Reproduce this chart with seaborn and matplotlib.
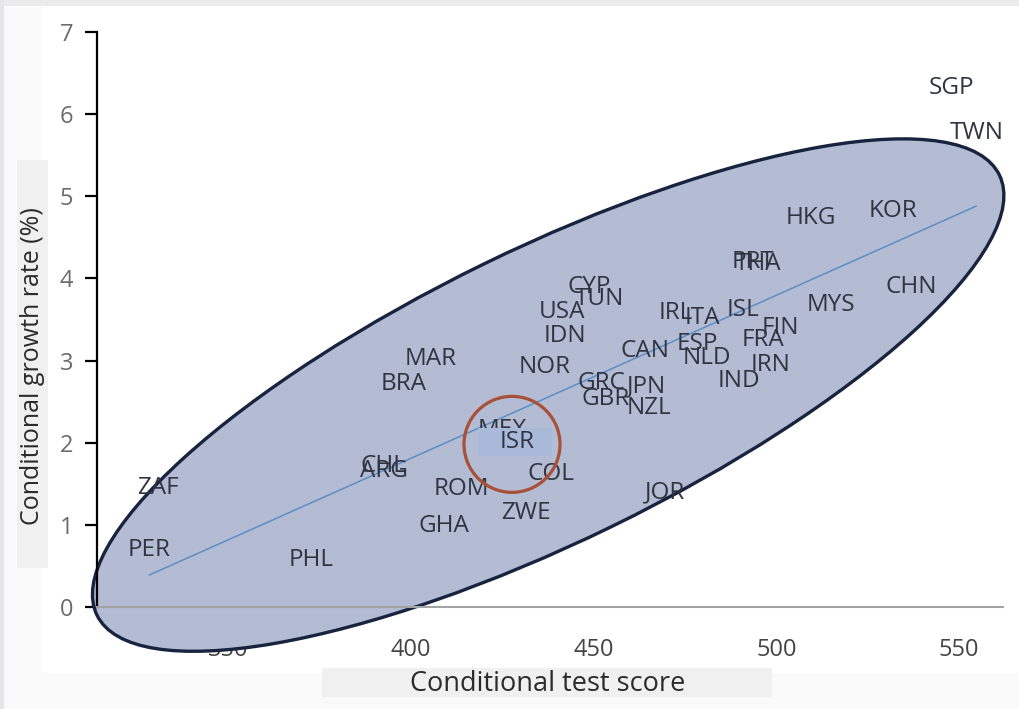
import numpy as np
import pandas as pd
import seaborn as sns
import matplotlib.pyplot as plt
from matplotlib.patches import Ellipse, Circle, Rectangle

countries = ["SGP", "TWN", "HKG", "KOR", "PRT", "THA", "CHN", "MYS", "ISL", "IRL",
             "ITA", "FIN", "FRA", "ESP", "CAN", "NLD", "IRN", "IND", "CYP", "TUN",
             "USA", "IDN", "NOR", "GRC", "JPN", "GBR", "NZL", "MAR", "BRA", "MEX",
             "ISR", "COL", "CHL", "ARG", "ROM", "JOR", "ZWE", "GHA", "ZAF", "PER", "PHL"]
test_score = [548.0, 554.7, 509.3, 531.9, 493.5, 495.0, 536.8, 514.8, 490.9, 472.3,
              479.7, 501.1, 496.2, 478.3, 464.0, 481.0, 498.4, 489.8, 448.6, 451.4,
              441.2, 442.0, 436.5, 452.2, 464.3, 453.3, 465.1, 405.2, 397.8, 425.0,
              429.1, 438.2, 392.3, 392.6, 413.7, 469.5, 431.3, 409.1, 330.8, 328.3, 372.5]
growth_rate = [6.32, 5.77, 4.73, 4.82, 4.20, 4.18, 3.89, 3.68, 3.62, 3.58,
               3.52, 3.40, 3.25, 3.20, 3.12, 3.03, 2.95, 2.75, 3.90, 3.75,
               3.59, 3.30, 2.92, 2.73, 2.68, 2.53, 2.42, 3.02, 2.72, 2.16,
               2.01, 1.62, 1.72, 1.66, 1.44, 1.40, 1.14, 0.99, 1.45, 0.69, 0.57]

x_ticks = [350, 400, 450, 500, 550]
y_ticks = [0, 1, 2, 3, 4, 5, 6, 7]

df = pd.DataFrame({"Country": countries, "Score": test_score, "Growth": growth_rate})

sns.set_style("white")
plt.rcParams["font.family"] = ["Open Sans", "DejaVu Sans"]

W, H = 1020, 709
fig = plt.figure(figsize=(W / 100, H / 100), dpi=100, facecolor="#fafafa")


def fig_rect(x0, y0, x1, y1, color, z):
    # rectangle given in picture pixels (top-left origin)
    r = Rectangle((x0 / W, 1 - y1 / H), (x1 - x0) / W, (y1 - y0) / H,
                  transform=fig.transFigure, facecolor=color, edgecolor="none",
                  zorder=z)
    fig.add_artist(r)


# white panel and the light frame of the screenshot
fig_rect(42, 6, W, 673, "white", -2)
fig_rect(0, 0, W, 6, "#ebebeb", -1)
fig_rect(0, 0, 4, H, "#e6e6ea", -1)

ax = fig.add_axes([97 / W, (H - 607) / H, 906 / W, 575 / H])
ax.set_facecolor("none")

sns.regplot(data=df, x="Score", y="Growth", scatter=False, ci=None, truncate=True,
            line_kws=dict(color="#5b8ec6", lw=1.1, zorder=3), ax=ax)

for c, x, y in zip(countries, test_score, growth_rate):
    ax.text(x, y, c, ha="center", va="center", fontsize=17.5, color="#2f3440",
            zorder=5 if c == "ISR" else 4)

# shaded box behind Israel's label (covers part of MEX, as in the original)
isr_x = test_score[countries.index("ISR")]
isr_y = growth_rate[countries.index("ISR")]
ax.add_patch(Rectangle((isr_x - 10.8, isr_y - 0.17), 20.3, 0.34,
                       facecolor="#a8b9da", edgecolor="none", zorder=4.5))

ax.set_xlim(314, 562)
ax.set_ylim(0, 7)
ax.set_xticks(x_ticks)
ax.set_yticks(y_ticks)
ax.set_xlabel("")
ax.set_ylabel("")

for s in ["top", "right"]:
    ax.spines[s].set_visible(False)
ax.spines["left"].set_color("black")
ax.spines["left"].set_linewidth(1.6)
ax.spines["bottom"].set_color("#a3a3a3")
ax.spines["bottom"].set_linewidth(1.5)
ax.tick_params(axis="y", direction="out", length=9, width=1.6, color="black",
               labelcolor="#6b6b6b", labelsize=17, pad=8, left=True)
ax.tick_params(axis="x", length=0, labelcolor="#444444", labelsize=17, pad=22)

# highlight ellipse around the cloud of countries, anchored in data space
fig.canvas.draw()
to_in = fig.dpi_scale_trans.inverted()
cx, cy = to_in.transform(ax.transData.transform((437.5, 2.58)))
ell = Ellipse((cx, cy), 10.04, 2.92, angle=26, transform=fig.dpi_scale_trans,
              facecolor="#b3bcd2", edgecolor="#17233f", lw=2.4, zorder=1,
              clip_on=False)
ax.add_artist(ell)

# red circle around Israel
rx, ry = to_in.transform(ax.transData.transform((427.6, 1.98)))
circ = Circle((rx, ry), 0.48, transform=fig.dpi_scale_trans, facecolor="none",
              edgecolor="#a85039", lw=2.3, zorder=6, clip_on=False)
ax.add_artist(circ)

# axis titles on grey boxes
fig_rect(322, 668, 772, 697, "#f0f0f0", 1)
fig.text(548 / W, 1 - 684 / H, "Conditional test score", ha="center", va="center",
         fontsize=19.5, color="#2b2b2b", zorder=2)
fig_rect(17, 160, 48, 568, "#f0f0f0", 1)
fig.text(33 / W, 1 - 366 / H, "Conditional growth rate (%)", ha="center",
         va="center", rotation=90, fontsize=18, color="#2b2b2b", zorder=2)

fig.savefig("out.png", dpi=100, facecolor=fig.get_facecolor())
